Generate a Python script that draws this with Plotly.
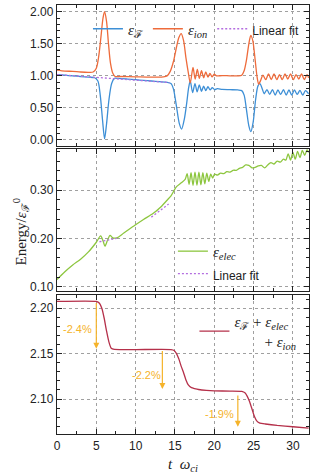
import plotly.graph_objects as go
from plotly.subplots import make_subplots

# ---------------- Panel 1: field and ion energy ----------------
t_field = [0, 1, 2, 3, 4, 4.8, 5.2, 5.5, 5.8, 6.05, 6.3, 6.6, 6.95, 7.3, 7.8, 9, 10, 11, 12, 13, 14,
           14.5, 14.8, 15.2, 15.55, 15.85, 16.2, 16.5, 16.75, 16.95, 17.25, 17.55, 17.82, 18.1, 18.38,
           18.65, 18.92, 19.2, 19.47, 19.75, 20.05, 20.4, 21, 22, 23, 23.5, 23.8, 24.1, 24.4, 24.65,
           24.95, 25.25, 25.55, 25.8, 26.1, 26.35, 26.7, 27.05, 27.4, 27.75, 28.1, 28.45, 28.8, 29.15,
           29.5, 29.85, 30.2, 30.55, 30.9, 31.25, 31.6, 32.0]
e_field = [1.02, 1.01, 1.00, 0.99, 0.98, 0.97, 0.92, 0.70, 0.30, 0.02, 0.25, 0.62, 0.88, 0.96, 0.96,
           0.95, 0.94, 0.93, 0.92, 0.91, 0.90,
           0.88, 0.80, 0.52, 0.26, 0.17, 0.33, 0.58, 0.82, 0.92, 0.74, 0.88, 0.75, 0.86, 0.76,
           0.84, 0.77, 0.83, 0.78, 0.815, 0.785, 0.80, 0.79, 0.785, 0.78, 0.77, 0.70, 0.47, 0.22, 0.13,
           0.28, 0.62, 0.84, 0.88, 0.80, 0.72, 0.785, 0.71, 0.785, 0.70, 0.78, 0.71, 0.785, 0.70,
           0.78, 0.70, 0.78, 0.71, 0.775, 0.70, 0.77, 0.72]

t_ion = [0, 1, 2, 3, 4, 4.6, 5.0, 5.3, 5.6, 5.85, 6.05, 6.3, 6.55, 6.8, 7.1, 7.4, 8, 10, 12, 13.5,
         14.0, 14.4, 14.8, 15.2, 15.5, 15.8, 16.1, 16.4, 16.7, 16.95, 17.3, 17.57, 17.85, 18.1, 18.38,
         18.65, 18.92, 19.2, 19.45, 19.72, 20.0, 20.3, 21, 22, 23, 23.5, 23.8, 24.1, 24.4, 24.65, 24.9,
         25.2, 25.45, 25.65, 25.9, 26.2, 26.55, 26.9, 27.25, 27.6, 27.95, 28.3, 28.65, 29.0, 29.35,
         29.7, 30.05, 30.4, 30.75, 31.1, 31.45, 31.8, 32.0]
e_ion = [1.09, 1.075, 1.07, 1.06, 1.055, 1.06, 1.12, 1.30, 1.62, 1.90, 2.00, 1.85, 1.50, 1.20, 1.04,
         0.99, 0.99, 0.985, 0.98, 0.985,
         1.00, 1.07, 1.22, 1.45, 1.60, 1.66, 1.55, 1.28, 1.05, 0.89, 1.13, 0.95, 1.10, 0.96, 1.08,
         0.97, 1.06, 0.98, 1.04, 0.985, 1.025, 1.00, 1.005, 1.00, 1.00, 1.01, 1.08, 1.25, 1.50, 1.63,
         1.55, 1.25, 0.98, 0.87, 0.93, 1.01, 0.94, 1.03, 0.94, 1.03, 0.94, 1.02, 0.94, 1.03, 0.95,
         1.03, 0.94, 1.02, 0.95, 1.03, 0.94, 1.02, 0.97]

t_fit1 = [0, 14.3]
e_fit1 = [1.02, 0.895]

# ---------------- Panel 2: electron energy ----------------
t_elec = [0, 1, 2, 3, 4, 5, 5.55, 5.85, 6.1, 6.4, 6.75, 7.1, 7.6, 8.5, 9.9, 11, 12.25, 13.2, 14,
          14.5, 15.2, 15.8, 16.3, 16.55, 16.8, 17.05, 17.3, 17.55, 17.8, 18.05, 18.3, 18.55, 18.8,
          19.05, 19.3, 19.55, 19.8, 20.05, 20.4, 20.8, 21.2, 21.6, 22.0, 22.4, 22.8, 23.2, 23.6, 24.0,
          24.4, 24.8, 25.2, 25.6, 26.0, 26.4, 26.8, 27.2, 27.6, 28.0, 28.4, 28.8, 29.1, 29.4, 29.7,
          30.0, 30.3, 30.6, 30.9, 31.2, 31.5, 31.8, 32.0]
e_elec = [0.115, 0.131, 0.145, 0.157, 0.172, 0.192, 0.205, 0.195, 0.184, 0.195, 0.206, 0.201, 0.201,
          0.211, 0.227, 0.239, 0.252, 0.265, 0.279,
          0.288, 0.307, 0.315, 0.322, 0.334, 0.312, 0.336, 0.310, 0.337, 0.310, 0.337, 0.311, 0.336,
          0.313, 0.335, 0.318, 0.333, 0.325, 0.333, 0.331, 0.335, 0.334, 0.338, 0.337, 0.341, 0.341,
          0.345, 0.347, 0.352, 0.351, 0.346, 0.347, 0.350, 0.351, 0.346, 0.352, 0.357, 0.354, 0.360,
          0.358, 0.364, 0.362, 0.375, 0.362, 0.378, 0.364, 0.380, 0.367, 0.382, 0.372, 0.383, 0.378]

t_fit2 = [5.4, 7.6, None, 12.0, 14.2]
e_fit2 = [0.193, 0.200, None, 0.244, 0.271]

# ---------------- Panel 3: total energy ----------------
t_total = [0, 5.0, 5.4, 5.7, 6.0, 6.3, 6.6, 6.9, 7.3, 10, 14.5, 14.9, 15.2, 15.5, 15.8, 16.1, 16.4,
           16.7, 17.1, 17.5, 18.0, 19, 20, 22, 23.5, 23.9, 24.2, 24.5, 24.8, 25.1, 25.4, 25.8, 26.5,
           28, 30, 32]
e_total = [2.2075, 2.2075, 2.2055, 2.200, 2.189, 2.175, 2.163, 2.156, 2.1548, 2.1545, 2.1545, 2.1535,
           2.150, 2.144, 2.136, 2.129, 2.121, 2.1155, 2.1125, 2.1115, 2.1105, 2.1095, 2.109, 2.1088,
           2.1085, 2.107, 2.103, 2.097, 2.089, 2.081, 2.076, 2.0735, 2.0725, 2.071, 2.0695, 2.068]

plateau_levels = [2.1545, 2.1085, 2.068]
drop_t = [5.0, 13.4, 23.0]
drop_top = [2.2075, 2.1545, 2.1055]
drop_bottom = [2.1555, 2.111, 2.0695]
drop_labels = ["-2.4%", "-2.2%", "-1.9%"]
label_t = [2.6, 11.4, 20.7]
label_e = [2.177, 2.126, 2.084]

# ---------------- styling ----------------
BLUE = "#3d8fd6"
ORANGE = "#ee6b3b"
PURPLE = "#b46ee0"
GREEN = "#8dc63f"
RED = "#b5304a"
GOLD = "#f5b32a"
SANS = "Liberation Sans"
SERIF = "Liberation Serif"

EPS_F = "<i>ε</i><sub>ℱ</sub>"
EPS_ION = "<i>ε</i><sub><i>ion</i></sub>"
EPS_ELEC = "<i>ε</i><sub><i>elec</i></sub>"
FIT_NAME = f"<span style=\"font-family:{SANS};font-size:12px\">Linear fit</span>"

fig = make_subplots(rows=3, cols=1, shared_xaxes=True, vertical_spacing=0.01)

fig.add_trace(go.Scatter(x=t_field, y=e_field, mode="lines", name=EPS_F,
                         line=dict(color=BLUE, width=1.3, shape="spline", smoothing=0.8),
                         legend="legend"), row=1, col=1)
fig.add_trace(go.Scatter(x=t_ion, y=e_ion, mode="lines", name=EPS_ION,
                         line=dict(color=ORANGE, width=1.3, shape="spline", smoothing=0.8),
                         legend="legend"), row=1, col=1)
fig.add_trace(go.Scatter(x=t_fit1, y=e_fit1, mode="lines", name=FIT_NAME,
                         line=dict(color=PURPLE, width=1.3, dash="2px,2px"),
                         legend="legend"), row=1, col=1)

fig.add_trace(go.Scatter(x=t_elec, y=e_elec, mode="lines", name=EPS_ELEC,
                         line=dict(color=GREEN, width=1.3, shape="spline", smoothing=0.8),
                         legend="legend2"), row=2, col=1)
fig.add_trace(go.Scatter(x=t_fit2, y=e_fit2, mode="lines", name=FIT_NAME,
                         line=dict(color=PURPLE, width=1.3, dash="2px,2px"),
                         legend="legend2"), row=2, col=1)

for lvl in plateau_levels:
    fig.add_hline(y=lvl, row=3, col=1, line=dict(color=GOLD, width=1.2, dash="3px,2px"))

NB = "\u00a0"
fig.add_trace(go.Scatter(x=t_total, y=e_total, mode="lines",
                         name=EPS_F + " + " + EPS_ELEC + "<br>" + NB * 8 + "+ " + EPS_ION,
                         line=dict(color=RED, width=1.3, shape="spline", smoothing=0.5),
                         legend="legend3"), row=3, col=1)

for x, y0, y1 in zip(drop_t, drop_top, drop_bottom):
    fig.add_annotation(x=x, y=y1, ax=x, ay=y0, xref="x3", yref="y3", axref="x3", ayref="y3",
                       text="", showarrow=True, arrowhead=2, arrowsize=1, arrowwidth=1.2,
                       arrowcolor=GOLD)
for x, y, s in zip(label_t, label_e, drop_labels):
    fig.add_annotation(x=x, y=y, xref="x3", yref="y3", text=s, showarrow=False,
                       font=dict(family=SANS, size=11, color=GOLD))

axis_common = dict(showline=True, linecolor="#222", linewidth=1.3, mirror="allticks",
                   ticks="inside", ticklen=5, tickwidth=1, tickcolor="#222",
                   showgrid=True, gridcolor="#a0a0a0", griddash="dot", gridwidth=1,
                   zeroline=False,
                   tickfont=dict(family=SANS, size=12, color="#222"))

for i in (1, 2, 3):
    fig.update_xaxes(axis_common, range=[0, 32.05], dtick=5, tick0=0,
                     minor=dict(dtick=2.5, ticks="inside", ticklen=3, tickcolor="#222", showgrid=False),
                     showticklabels=(i == 3), row=i, col=1)

fig.update_yaxes(axis_common, range=[-0.094, 2.105], dtick=0.5, tick0=0, tickformat=".2f",
                 minor=dict(dtick=0.1, ticks="inside", ticklen=3, tickcolor="#222", showgrid=False),
                 domain=[0.6713, 1.0], row=1, col=1)
fig.update_yaxes(axis_common, range=[0.091, 0.385], dtick=0.1, tick0=0, tickformat=".2f",
                 minor=dict(dtick=0.02, ticks="inside", ticklen=3, tickcolor="#222", showgrid=False),
                 domain=[0.3333, 0.6643], row=2, col=1)
fig.update_yaxes(axis_common, range=[2.0615, 2.2146], dtick=0.05, tick0=0, tickformat=".2f",
                 minor=dict(dtick=0.01, ticks="inside", ticklen=3, tickcolor="#222", showgrid=False),
                 domain=[0.0, 0.324], row=3, col=1)

fig.add_annotation(text="<i>t</i>  <i>ω</i><sub><i>ci</i></sub>", xref="paper", yref="paper",
                   x=0.5, y=-0.072, yanchor="middle", showarrow=False,
                   font=dict(family=SERIF, size=15, color="#222"))

fig.add_annotation(text="Energy/<i>ε</i><sub>ℱ</sub><sup>0</sup>", xref="paper", yref="paper",
                   x=-0.19, y=0.47, textangle=-90, showarrow=False,
                   font=dict(family=SERIF, size=15, color="#222"))

legend_common = dict(bgcolor="rgba(0,0,0,0)", font=dict(family=SERIF, size=15, color="#222"),
                     itemwidth=30, tracegroupgap=0)
fig.update_layout(
    width=316, height=474,
    margin=dict(l=57, r=7, t=5, b=40),
    plot_bgcolor="white", paper_bgcolor="white",
    legend=dict(legend_common, orientation="h", x=0.98, xanchor="right", y=0.944, yanchor="middle"),
    legend2=dict(legend_common, x=0.46, xanchor="left", y=0.40, yanchor="middle"),
    legend3=dict(legend_common, x=0.97, xanchor="right", y=0.24, yanchor="middle"),
)

fig.write_html("out.html", config={"displayModeBar": False},
               post_script="document.body.style.margin='0';document.body.style.overflow='hidden';")
